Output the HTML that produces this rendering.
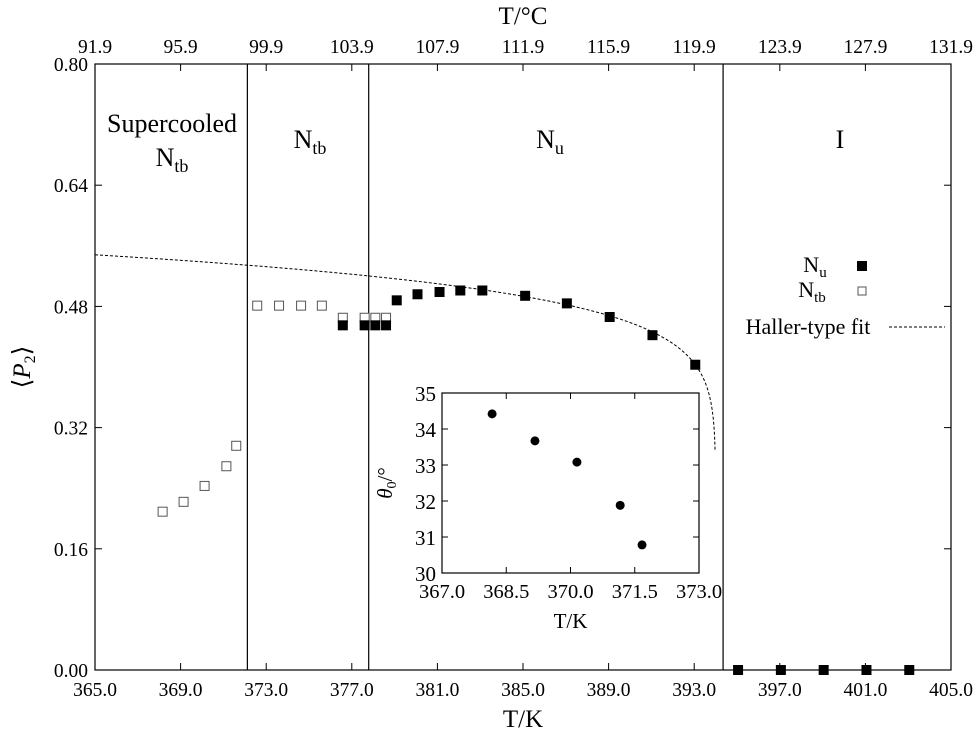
<!DOCTYPE html>
<html><head><meta charset="utf-8"><style>
body{margin:0;background:#fff}
svg text{font-family:"Liberation Serif",serif;fill:#000}
</style></head><body>
<svg id="c" width="980" height="735" xmlns="http://www.w3.org/2000/svg"></svg>
<script>
const xTicks=[365,369,373,377,381,385,389,393,397,401,405];
const yTicks=[0,0.16,0.32,0.48,0.64,0.80];
const topTicks=["91.9","95.9","99.9","103.9","107.9","111.9","115.9","119.9","123.9","127.9","131.9"];
const nuT=[376.58,377.6,378.1,378.6,379.1,380.07,381.1,382.07,383.1,385.1,387.05,389.05,391.05,393.05,395.05,397.05,399.05,401.05,403.05];
const nuP=[0.455,0.455,0.455,0.455,0.488,0.496,0.499,0.501,0.501,0.494,0.484,0.466,0.442,0.403,0,0,0,0,0];
const ntbT=[368.16,369.14,370.12,371.14,371.6,372.58,373.6,374.63,375.6,376.58,377.6,378.1,378.6];
const ntbP=[0.209,0.222,0.243,0.269,0.296,0.481,0.481,0.481,0.481,0.465,0.465,0.465,0.465];
const phaseBounds=[372.12,377.79,394.35];
const fitS0=0.693, fitB=0.0899, fitTc=394.0;
const insetT=[368.17,369.17,370.15,371.16,371.67];
const insetTheta=[34.42,33.67,33.08,31.88,30.78];
const insetXTicks=[367,368.5,370,371.5,373];
const insetYTicks=[30,31,32,33,34,35];

const NS="http://www.w3.org/2000/svg",svg=document.getElementById('c');
function el(t,a,p){const e=document.createElementNS(NS,t);for(const k in a)e.setAttribute(k,a[k]);(p||svg).appendChild(e);return e;}
const L=95,R=951,T=64,B=670;
const X=v=>L+(v-365)/40*(R-L), Y=v=>B-v/0.8*(B-T);
let e;
e=el('rect',{x:L,y:T,width:R-L,height:B-T,fill:'none',stroke:'#000','stroke-width':1.2});


xTicks.forEach((v,i)=>{
 el('line',{x1:X(v),x2:X(v),y1:B,y2:B-7,stroke:'#000'});
 el('line',{x1:X(v),x2:X(v),y1:T,y2:T+7,stroke:'#000'});
 e=el('text',{x:X(v),y:B+26,'font-size':19.5,'text-anchor':'middle'});e.textContent=v.toFixed(1);
 
 
 e=el('text',{x:X(v),y:T-11,'font-size':19.5,'text-anchor':'middle'});e.textContent=topTicks[i];
 
 
});
yTicks.forEach(v=>{
 el('line',{x1:L,x2:L+7,y1:Y(v),y2:Y(v),stroke:'#000'});
 el('line',{x1:R,x2:R-7,y1:Y(v),y2:Y(v),stroke:'#000'});
 e=el('text',{x:L-7,y:Y(v)+7,'font-size':19.5,'text-anchor':'end'});e.textContent=v.toFixed(2);
 
 
});
e=el('text',{x:(L+R)/2,y:B+57,'font-size':25,'text-anchor':'middle'});e.textContent='T/K';


e=el('text',{x:(L+R)/2,y:24,'font-size':25,'text-anchor':'middle'});e.textContent='T/°C';


e=el('text',{x:0,y:0,'font-size':25,'text-anchor':'middle',transform:`translate(30,${(T+B)/2}) rotate(-90)`});
e.innerHTML='⟨<tspan font-style="italic">P</tspan><tspan font-size="16" dy="5">2</tspan><tspan dy="-5">⟩</tspan>';


phaseBounds.forEach(v=>{e=el('line',{x1:X(v),x2:X(v),y1:T,y2:B,stroke:'#000','stroke-width':1.2});
 
 });
function lab(x,y,html,name){e=el('text',{x:x,y:y,'font-size':26,'text-anchor':'middle'});e.innerHTML=html;
 
 }
lab(172,132,'Supercooled','label-supercooled');
lab(172,166,'N<tspan font-size="18" dy="6">tb</tspan>','label-ntb-supercooled');
lab(310,148,'N<tspan font-size="18" dy="6">tb</tspan>','label-ntb');
lab(550,148,'N<tspan font-size="18" dy="6">u</tspan>','label-nu');
lab(840,148,'I','label-isotropic');
let pts=[];for(let i=0;i<=400;i++){const t=365+(393.976-365)*(1-Math.pow(1-i/400,3));pts.push(X(t).toFixed(2)+','+Y(fitS0*Math.pow(1-t/fitTc,fitB)).toFixed(2));}
e=el('polyline',{points:pts.join(' '),fill:'none',stroke:'#000','stroke-width':1,'stroke-dasharray':'3,2'});


ntbT.forEach((t,i)=>{e=el('rect',{x:X(t)-4.5,y:Y(ntbP[i])-4.5,width:9,height:9,fill:'#fff',stroke:'#555','stroke-width':1});
 
 });
nuT.forEach((t,i)=>{e=el('rect',{x:X(t)-5,y:Y(nuP[i])-5,width:10,height:10,fill:'#000'});
 
 });
lab(815,272,'N<tspan font-size="15" dy="5">u</tspan>','legend-nu-label');svg.lastChild.setAttribute('font-size',22);
e=el('rect',{x:857,y:261,width:10,height:10,fill:'#000'});
lab(812,297,'N<tspan font-size="15" dy="5">tb</tspan>','legend-ntb-label');svg.lastChild.setAttribute('font-size',22);
e=el('rect',{x:858,y:287,width:8,height:8,fill:'#fff',stroke:'#555'});
lab(808,334,'Haller-type fit','legend-fit-label');svg.lastChild.setAttribute('font-size',22);
e=el('line',{x1:889,x2:945,y1:327,y2:327,stroke:'#000','stroke-dasharray':'3,2'});
const iL=442,iR=699,iT=393,iB=573;
const IX=v=>iL+(v-367)/6*(iR-iL), IY=v=>iB-(v-30)/5*(iB-iT);
e=el('rect',{x:iL,y:iT,width:iR-iL,height:iB-iT,fill:'#fff',stroke:'#000','stroke-width':1.2});


insetXTicks.forEach(v=>{el('line',{x1:IX(v),x2:IX(v),y1:iB,y2:iB-6,stroke:'#000'});el('line',{x1:IX(v),x2:IX(v),y1:iT,y2:iT+6,stroke:'#000'});
 e=el('text',{x:IX(v),y:iB+25,'font-size':20.5,'text-anchor':'middle'});e.textContent=v.toFixed(1);
 
 });
insetYTicks.forEach(v=>{el('line',{x1:iL,x2:iL+6,y1:IY(v),y2:IY(v),stroke:'#000'});el('line',{x1:iR,x2:iR-6,y1:IY(v),y2:IY(v),stroke:'#000'});
 e=el('text',{x:iL-6,y:IY(v)+8,'font-size':21,'text-anchor':'end'});e.textContent=v;
 
 });
e=el('text',{x:(iL+iR)/2,y:iB+55,'font-size':21,'text-anchor':'middle'});e.textContent='T/K';


e=el('text',{x:0,y:0,'font-size':21,'text-anchor':'middle',transform:`translate(392,${(iT+iB)/2}) rotate(-90)`});
e.innerHTML='<tspan font-style="italic">θ</tspan><tspan font-size="14" dy="4">0</tspan><tspan dy="-4">/°</tspan>';


insetT.forEach((t,i)=>{e=el('circle',{cx:IX(t),cy:IY(insetTheta[i]),r:4.5,fill:'#000'});
 
 });
</script>
</body></html>
